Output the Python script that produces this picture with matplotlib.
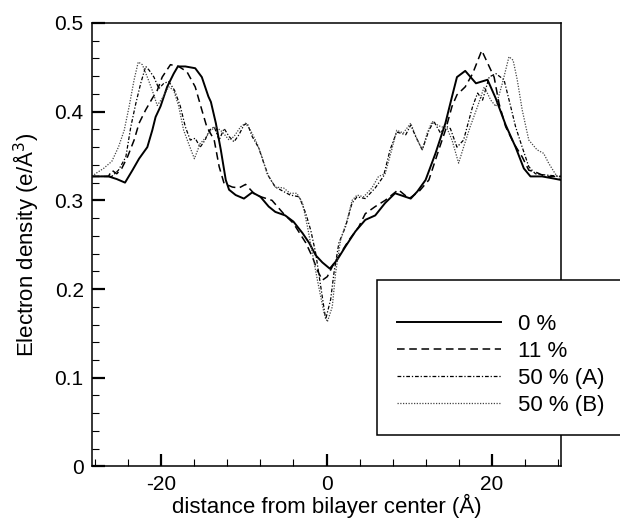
import matplotlib
matplotlib.use("Agg")
from matplotlib import pyplot as plt
from matplotlib.ticker import MultipleLocator
from matplotlib.patches import Rectangle

plt.rcParams["font.family"] = ["Liberation Sans", "DejaVu Sans"]
plt.rcParams["axes.unicode_minus"] = False

# 0 %
x_0 = [-28.4, -26.4, -25.4, -24.4, -23.5, -22.7, -21.7, -21.1, -20.7, -20.1, -19.3,
       -18.5, -18.0, -17.1, -15.9, -15.1, -14.3, -14.0, -13.4, -12.8, -12.2, -11.8,
       -11.0, -10.0, -9.0, -8.0, -7.0, -6.2, -5.0, -4.0, -2.9, -2.1, -1.3, -0.5,
       0.4, 1.3, 2.3, 3.5, 4.7, 5.9, 7.1, 8.3, 10.2, 11.0, 12.0, 13.2, 14.4, 15.2,
       15.8, 16.8, 18.1, 19.5, 20.5, 21.7, 22.9, 23.9, 24.7, 26.1, 27.3, 28.4]
y_0 = [0.327, 0.327, 0.324, 0.320, 0.334, 0.347, 0.360, 0.379, 0.394, 0.406, 0.428,
       0.443, 0.451, 0.451, 0.449, 0.439, 0.417, 0.411, 0.387, 0.357, 0.323, 0.312,
       0.306, 0.302, 0.309, 0.304, 0.293, 0.287, 0.283, 0.276, 0.263, 0.252, 0.238, 0.230,
       0.223, 0.233, 0.248, 0.265, 0.278, 0.283, 0.297, 0.308, 0.302, 0.310, 0.323, 0.353,
       0.387, 0.417, 0.439, 0.446, 0.432, 0.436, 0.415, 0.385, 0.360, 0.336, 0.327,
       0.327, 0.325, 0.323]

# 11 %
x_11 = [-28.4, -26.4, -26.0, -25.4, -24.8, -24.1, -23.3, -22.7, -21.9, -21.1, -20.5,
        -19.9, -18.9, -17.9, -16.9, -15.9, -15.1, -14.5, -13.6, -13.0, -12.4, -11.4,
        -10.6, -9.8, -8.6, -6.6, -5.2, -4.0, -2.5, -1.7, -1.1, -0.5, 0.1, 0.9, 1.7,
        2.7, 3.9, 4.7, 5.9, 7.1, 8.7, 10.0, 11.2, 12.4, 13.6, 14.4, 15.2, 15.8, 16.8,
        17.7, 18.8, 19.7, 20.3, 20.9, 21.7, 22.7, 23.7, 24.5, 25.3, 26.5, 28.4]
y_11 = [0.327, 0.327, 0.334, 0.330, 0.336, 0.349, 0.368, 0.387, 0.402, 0.415, 0.424,
        0.439, 0.453, 0.451, 0.445, 0.428, 0.402, 0.383, 0.368, 0.338, 0.319, 0.315,
        0.314, 0.318, 0.306, 0.300, 0.285, 0.274, 0.252, 0.236, 0.221, 0.210, 0.214, 0.229, 0.240,
        0.255, 0.270, 0.285, 0.293, 0.300, 0.312, 0.302, 0.310, 0.323, 0.357, 0.379, 0.406, 0.419, 0.428,
        0.443, 0.469, 0.451, 0.439, 0.409, 0.383, 0.364, 0.349, 0.334, 0.332, 0.327, 0.327]

# 50 % (A)
x_50a = [-28.4, -26.0, -25.2, -24.3, -23.7, -23.1, -22.5, -21.9, -21.5, -20.9, -20.3,
         -19.7, -19.1, -18.4, -17.7, -17.1, -16.5, -15.9, -15.3, -14.7, -14.2, -13.6,
         -13.0, -12.4, -11.8, -11.2, -10.6, -10.0, -9.6, -9.0, -8.2, -7.6, -7.0, -6.2,
         -5.2, -4.4, -3.3, -2.5, -1.9, -1.3, -0.7, -0.1, 0.5, 0.9, 1.5, 2.3, 3.1, 3.7,
         4.7, 5.9, 6.9, 7.7, 8.5, 9.6, 10.2, 10.8, 11.6, 12.4, 13.0, 13.8, 14.4, 15.0,
         15.8, 16.6, 17.7, 18.3, 18.9, 19.7, 20.5, 21.5, 22.3, 22.9, 23.7, 24.5, 25.3,
         26.1, 28.4]
y_50a = [0.327, 0.327, 0.334, 0.349, 0.383, 0.409, 0.432, 0.451, 0.447, 0.439, 0.426,
         0.432, 0.434, 0.424, 0.406, 0.383, 0.368, 0.370, 0.360, 0.368, 0.379, 0.383,
         0.368, 0.381, 0.372, 0.366, 0.374, 0.385, 0.387, 0.372, 0.359, 0.342, 0.327, 0.315,
         0.310, 0.306, 0.304, 0.285, 0.266, 0.240, 0.203, 0.166, 0.188, 0.218, 0.252, 0.270, 0.297, 0.304,
         0.302, 0.314, 0.327, 0.357, 0.377, 0.374, 0.385, 0.372, 0.357, 0.379, 0.389, 0.376, 0.384, 0.381,
         0.360, 0.368, 0.406, 0.421, 0.413, 0.439, 0.443, 0.436, 0.406, 0.383, 0.360, 0.338, 0.330,
         0.329, 0.327]

# 50 % (B)
x_50b = [-28.4, -28.0, -27.0, -26.0, -25.2, -24.5, -23.9, -23.3, -22.8, -22.3, -21.7,
         -21.1, -20.5, -19.9, -19.1, -18.5, -17.9, -17.3, -16.7, -16.0, -15.3, -14.7,
         -14.0, -13.4, -12.6, -11.8, -11.2, -10.4, -9.8, -9.2, -8.4, -7.8, -7.2, -6.2,
         -5.2, -4.4, -3.6, -2.9, -2.3, -1.7, -1.1, -0.3, 0.1, 0.7, 1.1, 1.7, 2.5, 3.1,
         3.7, 4.5, 5.5, 6.3, 7.1, 7.9, 8.5, 9.3, 10.2, 11.0, 11.6, 12.2, 12.8, 13.6,
         14.6, 15.2, 16.0, 16.6, 17.4, 18.3, 19.1, 19.9, 20.5, 21.3, 22.1, 22.6, 23.1,
         23.7, 24.5, 25.5, 26.3, 26.9, 27.7, 28.4]
y_50b = [0.327, 0.330, 0.336, 0.344, 0.360, 0.379, 0.406, 0.436, 0.456, 0.453, 0.439,
         0.424, 0.407, 0.415, 0.428, 0.424, 0.406, 0.379, 0.364, 0.347, 0.364, 0.370,
         0.379, 0.383, 0.377, 0.368, 0.372, 0.383, 0.387, 0.379, 0.364, 0.349, 0.330, 0.315,
         0.314, 0.308, 0.308, 0.297, 0.270, 0.240, 0.210, 0.173, 0.163, 0.180, 0.218, 0.255, 0.278, 0.300,
         0.306, 0.304, 0.314, 0.327, 0.330, 0.357, 0.379, 0.376, 0.387, 0.368, 0.357, 0.376, 0.389, 0.384,
         0.381, 0.368, 0.342, 0.360, 0.383, 0.406, 0.428, 0.413, 0.406, 0.432, 0.462, 0.458, 0.436,
         0.402, 0.368, 0.357, 0.353, 0.342, 0.330, 0.323]


def plot_profiles():
    fig = plt.figure(figsize=(6.2, 5.21), dpi=100)
    ax = fig.add_axes([92 / 620, 1 - 466.4 / 521, 469 / 620, 443.4 / 521])

    ax.plot(x_0, y_0, color="black", lw=1.4, ls="-", label="0 %")
    ax.plot(x_11, y_11, color="black", lw=1.1, ls=(0, (5, 3)), label="11 %")
    ax.plot(x_50a, y_50a, color="black", lw=0.9, ls=(0, (3, 1.5, 1, 1.5)), label="50 % (A)")
    ax.plot(x_50b, y_50b, color="#444444", lw=0.9, ls=(0, (1, 1.2)), label="50 % (B)")

    ax.set_xlim(-28.4, 28.4)
    ax.set_ylim(0, 0.5)
    ax.xaxis.set_major_locator(MultipleLocator(20))
    ax.xaxis.set_minor_locator(MultipleLocator(4))
    ax.yaxis.set_major_locator(MultipleLocator(0.1))
    ax.yaxis.set_minor_locator(MultipleLocator(0.02))
    ax.yaxis.set_major_formatter(plt.FuncFormatter(lambda v, p: "0" if v == 0 else f"{v:.1f}"))
    ax.tick_params(which="both", direction="in", top=False, right=False, labelsize=15, pad=6)
    ax.tick_params(which="major", length=9, width=1.6)
    ax.tick_params(which="minor", length=5, width=0.8)
    for s in ax.spines.values():
        s.set_linewidth(1.1)

    ax.set_xlabel("distance from bilayer center (Å)", fontsize=16, labelpad=0)
    ax.set_ylabel("Electron density (e/Å$^3$)", fontsize=16, labelpad=10)

    # legend box runs off the right edge of the figure
    fig.patches.append(Rectangle((377 / 620, 1 - 435 / 521), 300 / 620, 155 / 521,
                                 transform=fig.transFigure, fill=True, facecolor="white",
                                 edgecolor="black", lw=1.1, zorder=5))
    leg = fig.legend(loc="upper left", bbox_to_anchor=(397 / 620, 1 - 314 / 521),
                     frameon=False, fontsize=16, handlelength=4.7, handletextpad=0.75,
                     labelspacing=0.27, borderpad=0, borderaxespad=0)
    leg.set_zorder(6)

    plt.savefig("out.png", dpi=100)


if __name__ == "__main__":
    plot_profiles()
